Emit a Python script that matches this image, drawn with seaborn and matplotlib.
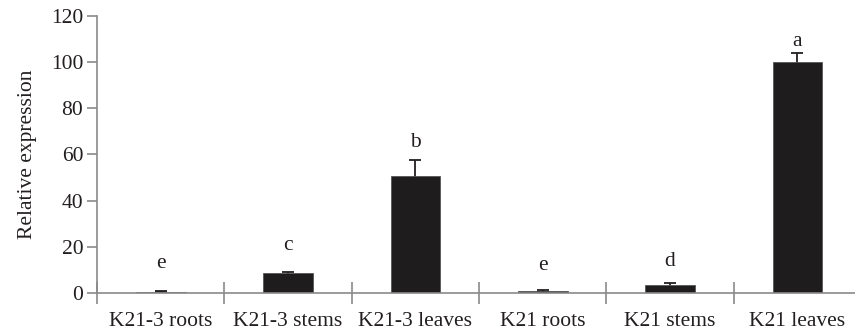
import matplotlib
matplotlib.use("Agg")
import matplotlib.pyplot as plt
import seaborn as sns
import numpy as np
import pandas as pd

categories = ["K21-3 roots", "K21-3 stems", "K21-3 leaves", "K21 roots", "K21 stems", "K21 leaves"]
values = [0.6, 8.5, 50.5, 0.9, 3.6, 100.0]
errors = [0.3, 0.7, 7.0, 0.3, 0.9, 4.0]
letters = ["e", "c", "b", "e", "d", "a"]
letter_y = [8.5, 16.5, 61.0, 8.0, 9.5, 105.0]
yticks = [0, 20, 40, 60, 80, 100, 120]

sns.set_theme(style="white")
plt.rcParams['font.family'] = ['Liberation Serif', 'DejaVu Serif']

text_col = "#231f20"
axis_col = "#8a8a8a"
fs = 15.5

df = pd.DataFrame({"tissue": categories, "value": values})

fig = plt.figure(figsize=(8.55, 3.31), dpi=100)
ax = fig.add_axes([0.1135, 0.1148, 0.8936, 0.8369])

x = np.arange(len(categories))
# symmetric bars drawn beneath the columns so only the upper half shows
ax.errorbar(x, values, yerr=errors, fmt="none", ecolor=text_col,
            elinewidth=1.3, capsize=4, capthick=1.3, zorder=1)

sns.barplot(data=df, x="tissue", y="value", order=categories, color="#1f1c1d",
            saturation=1, width=0.39, edgecolor="#555555", linewidth=0.6, ax=ax,
            zorder=3)

for xi, lab, ly in zip(x, letters, letter_y):
    ax.text(xi, ly, lab, ha="center", va="bottom", fontsize=fs, color=text_col)

ax.set_xlim(-0.5, 5.5)
ax.set_ylim(0, 120)
ax.set_yticks(yticks)
ax.set_yticklabels([str(t) for t in yticks])
ax.set_xlabel("")
ax.set_ylabel("Relative expression", fontsize=fs, color=text_col, labelpad=10)

for s in ["top", "right"]:
    ax.spines[s].set_visible(False)
for s in ["left", "bottom"]:
    ax.spines[s].set_color(axis_col)
    ax.spines[s].set_linewidth(1.2)
    ax.spines[s].set_zorder(4)

ax.tick_params(axis="y", direction="out", length=7, width=1.2, color=axis_col,
               labelsize=fs, labelcolor=text_col, pad=3, left=True)
ax.set_xticks(x)
ax.set_xticklabels(categories)
ax.tick_params(axis="x", which="major", length=0, labelsize=fs, labelcolor=text_col, pad=14)
ax.set_xticks(np.arange(-0.5, 6.0, 1.0), minor=True)
ax.tick_params(axis="x", which="minor", direction="inout", length=16, width=1.2,
               color=axis_col, bottom=True)
ax.grid(False)

fig.savefig("out.png", dpi=100)
